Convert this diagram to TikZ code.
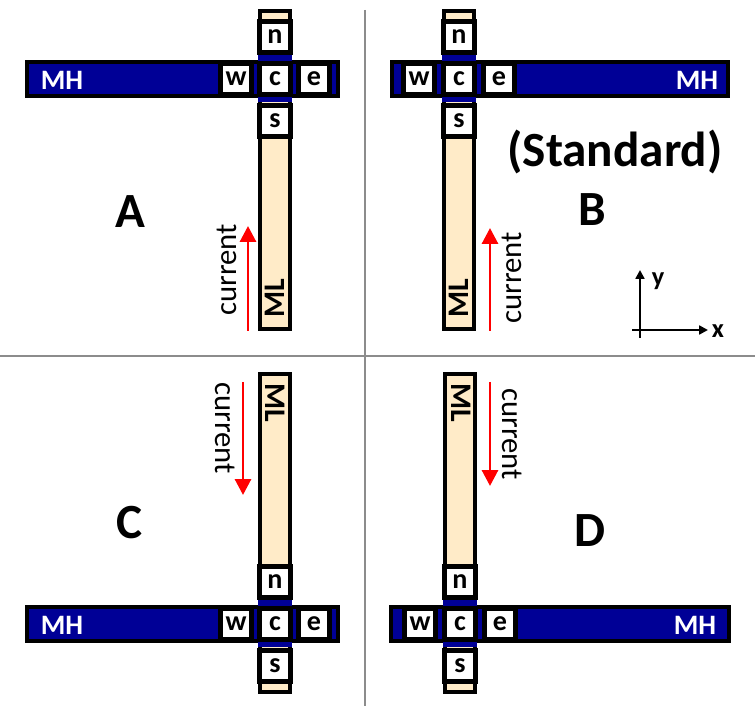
\documentclass[tikz,border=0pt]{standalone}
\usepackage{fontspec}
\setmainfont{Carlito}
\usetikzlibrary{arrows.meta}
\definecolor{mhblue}{RGB}{0,0,150}
\definecolor{mlbeige}{RGB}{255,235,200}
\definecolor{rulegray}{RGB}{140,140,140}
\tikzset{
  wire/.style={draw=black,line width=2.5pt,fill=#1},
  site/.style={draw,line width=2.6pt,fill=white,minimum size=0.62cm,inner sep=0pt,
    font=\fontsize{16}{16}\selectfont\bfseries},
  panel/.style={font=\fontsize{28}{28}\selectfont\bfseries},
  mhtext/.style={white,font=\fontsize{16}{16}\selectfont\bfseries},
  mltext/.style={font=\fontsize{17}{17}\selectfont\bfseries},
  curtext/.style={font=\fontsize{17.5}{17.5}\selectfont},
  flow/.style={red,line width=1.7pt,-{Triangle[length=9pt,width=9pt]}},
  axis/.style={line width=1.3pt,-{Triangle[length=5pt,width=5pt]}},
}
\begin{document}
\begin{tikzpicture}[x=0.02cm,y=-0.02cm]
\useasboundingbox (0,0) rectangle (755,706);
% quadrant rules
\draw[rulegray,line width=1.2pt] (365,10) -- (365,706);
\draw[rulegray,line width=1.2pt] (0,356) -- (755,356);

% A
\draw[wire=mlbeige] (260,11) rectangle (290,329);
\draw[wire=mhblue] (27,62) rectangle (338,96);
\fill[mhblue] (258,55) rectangle (292,102);
\node[site] (An) at (275,37) {n};
\node[site] (Aw) at (236,79) {w};
\node[site] (Ac) at (275,79) {c};
\node[site] (Ae) at (314,79) {e};
\node[site] (As) at (275,121) {s};
\node[mhtext] (Amh) at (62,80) {MH};
\node[mltext,rotate=90] (Aml) at (275,298) {ML};
\node[curtext,rotate=90] (Acur) at (227,270) {current};
\coordinate (Ai0) at (248,331);
\coordinate (Ai1) at (248,226);
\draw[flow] (Ai0) -- (Ai1);
\node[panel] (Albl) at (130,212) {A};

% B
\draw[wire=mlbeige] (444,11) rectangle (474,329);
\draw[wire=mhblue] (392,62) rectangle (728,96);
\fill[mhblue] (442,55) rectangle (476,102);
\node[site] (Bn) at (459,37) {n};
\node[site] (Bw) at (419,79) {w};
\node[site] (Bc) at (459,79) {c};
\node[site] (Be) at (499,79) {e};
\node[site] (Bs) at (459,121) {s};
\node[mhtext] (Bmh) at (697,80) {MH};
\node[mltext,rotate=90] (Bml) at (459,298) {ML};
\node[curtext,rotate=90] (Bcur) at (512,278) {current};
\coordinate (Bi0) at (490,331);
\coordinate (Bi1) at (490,228);
\draw[flow] (Bi0) -- (Bi1);
\node[panel] (Blbl) at (592,210) {B};
\node[panel] (std) at (615,152) {(Standard)};
% axes
\coordinate (yb) at (640,338);
\coordinate (yt) at (640,270);
\coordinate (xb) at (632,330);
\coordinate (xt) at (708,330);
\draw[axis] (yb) -- (yt);
\draw[axis] (xb) -- (xt);
\node[font=\fontsize{15}{15}\selectfont\bfseries] (ylbl) at (658,281) {y};
\node[font=\fontsize{15}{15}\selectfont\bfseries] (xlbl) at (718,331) {x};

% C
\draw[wire=mlbeige] (260,374) rectangle (290,692);
\draw[wire=mhblue] (27,607) rectangle (338,641);
\fill[mhblue] (258,600) rectangle (292,647);
\node[site] (Cn) at (275,582) {n};
\node[site] (Cw) at (236,624) {w};
\node[site] (Cc) at (275,624) {c};
\node[site] (Ce) at (314,624) {e};
\node[site] (Cs) at (275,666) {s};
\node[mhtext] (Cmh) at (62,625) {MH};
\node[mltext,rotate=-90] (Cml) at (275,403) {ML};
\node[curtext,rotate=-90] (Ccur) at (225,428) {current};
\coordinate (Ci0) at (243,382);
\coordinate (Ci1) at (243,495);
\draw[flow] (Ci0) -- (Ci1);
\node[panel] (Clbl) at (130,523) {C};

% D
\draw[wire=mlbeige] (445,374) rectangle (475,692);
\draw[wire=mhblue] (391,607) rectangle (729,641);
\fill[mhblue] (443,600) rectangle (477,647);
\node[site] (Dn) at (460,582) {n};
\node[site] (Dw) at (420,624) {w};
\node[site] (Dc) at (460,624) {c};
\node[site] (De) at (500,624) {e};
\node[site] (Ds) at (460,666) {s};
\node[mhtext] (Dmh) at (695,625) {MH};
\node[mltext,rotate=-90] (Dml) at (461,403) {ML};
\node[curtext,rotate=-90] (Dcur) at (512,434) {current};
\coordinate (Di0) at (490,382);
\coordinate (Di1) at (490,486);
\draw[flow] (Di0) -- (Di1);
\node[panel] (Dlbl) at (590,531) {D};
\end{tikzpicture}
\end{document}
